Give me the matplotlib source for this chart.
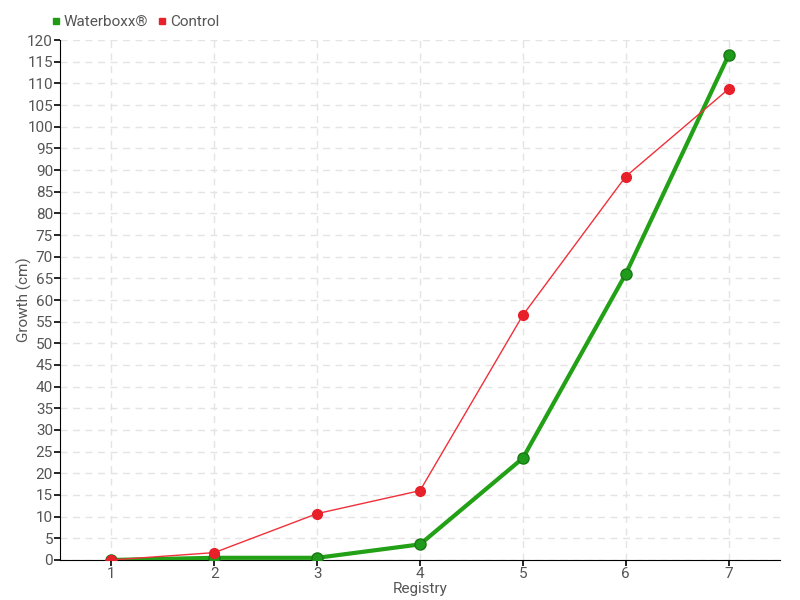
import matplotlib.pyplot as plt

registry = [1, 2, 3, 4, 5, 6, 7]
waterboxx = [0, 0.5, 0.5, 3.6, 23.5, 66, 116.5]
control = [0, 1.7, 10.7, 16, 56.5, 88.5, 108.7]

plt.rcParams['font.family'] = ['Roboto', 'DejaVu Sans']
txt = '#555555'

fig = plt.figure(figsize=(8, 6), dpi=100)
ax = fig.add_axes([0.075, 0.0667, 0.9, 0.8666])

ax.plot(registry, waterboxx, color='#22a016', lw=3, marker='o', ms=8,
        markerfacecolor='#1f9a1a', markeredgecolor='#187a14', zorder=3)
ax.plot(registry, control, color='#f0303a', lw=1, marker='o', ms=7,
        markerfacecolor='#e8202a', markeredgecolor='#e8202a', zorder=4)

ax.set_xlim(0.5, 7.5)
ax.set_ylim(0, 120)
ax.set_xticks(registry)
ax.set_yticks(range(0, 121, 5))
ax.grid(True, color='#e4e4e4', linestyle=(0, (5, 4)), lw=1)
ax.set_axisbelow(True)
for s in ['top', 'right']:
    ax.spines[s].set_visible(False)
ax.tick_params(colors=txt, labelsize=11, length=4, width=1.2, pad=1)
ax.tick_params(axis='both', color='black')

ax.set_xlabel('Registry', color=txt, fontsize=11)
ax.set_ylabel('Growth (cm)', color=txt, fontsize=11)
ax.xaxis.set_label_coords(0.5, -0.043)
ax.yaxis.set_label_coords(-0.039, 0.5)

leg = fig.legend(handles=[
    plt.Line2D([], [], ls='', marker='s', ms=5, color='#1f9a12', label='Waterboxx®'),
    plt.Line2D([], [], ls='', marker='s', ms=5, color='#e8202a', label='Control')],
    loc='upper left', bbox_to_anchor=(0.055, 0.985), ncol=2, frameon=False,
    handletextpad=0.1, columnspacing=0.5, fontsize=11, handlelength=0.8,
    borderaxespad=0)
for t in leg.get_texts():
    t.set_color(txt)

fig.savefig('out.png', dpi=100)
